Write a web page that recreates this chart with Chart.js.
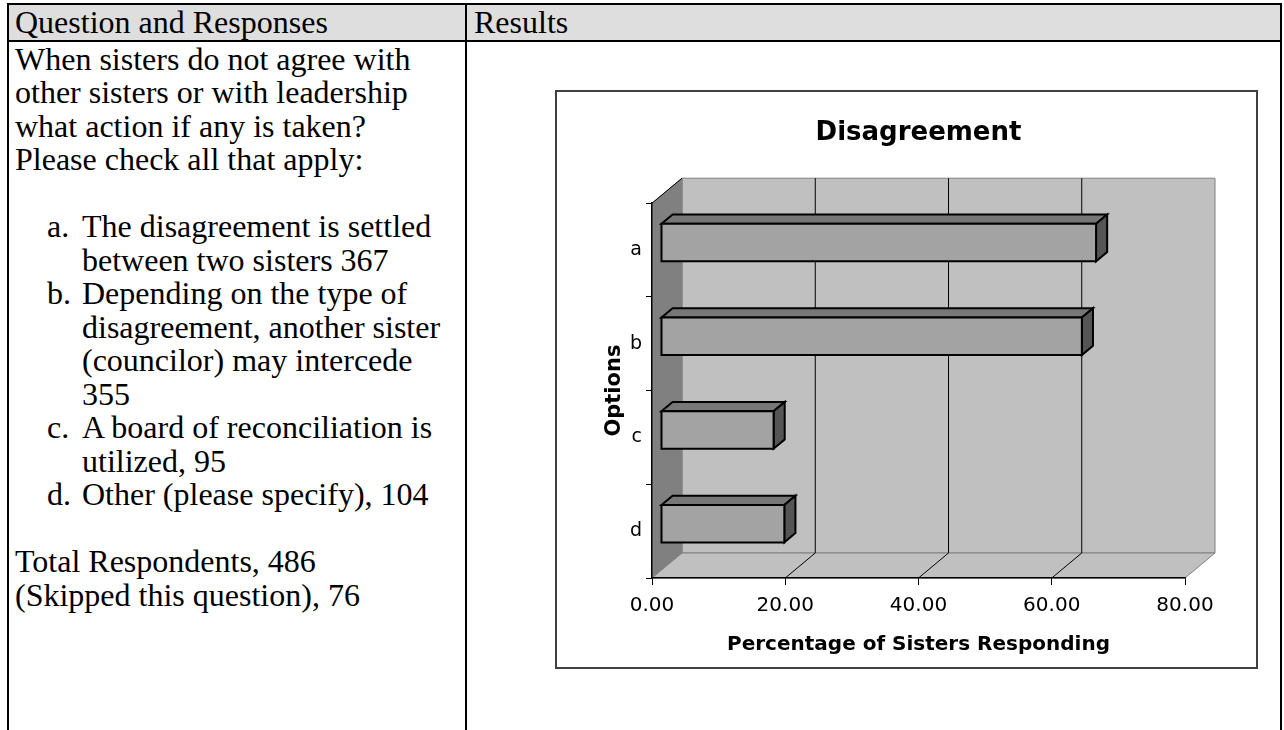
<!DOCTYPE html>
<html>
<head>
<meta charset="utf-8">
<script src="https://cdn.jsdelivr.net/npm/chart.js@4.4.0/dist/chart.umd.min.js"></script>
<style>
  body { margin: 0; width: 1284px; height: 730px; overflow: hidden; background: #fff;
         font-family: "Liberation Serif", "Times New Roman", serif; font-size: 32px; color: #000; }
  #frame { position: absolute; left: 7px; top: 3px; width: 1271px; height: 800px; border: 2px solid #000; }
  #head { position: absolute; left: 0; top: 0; width: 1271px; height: 35px; background: #dedede; border-bottom: 2px solid #000; }
  #divider { position: absolute; left: 456px; top: 0; width: 2px; height: 800px; background: #000; }
  .cell { position: absolute; line-height: 33.5px; white-space: nowrap; }
  .hd { line-height: 36.6px; }
  .li { position: relative; padding-left: 67px; }
  .mk { position: absolute; left: 32px; }
  #box { position: absolute; left: 555px; top: 90px; width: 699px; height: 575px; border: 2px solid #404040; background: #fff; }
  #chart { display: block; }
</style>
</head>
<body>
<div id="frame">
  <div id="head"></div>
  <div id="divider"></div>
  <div class="cell hd" style="left:6px; top:-1px">Question and Responses</div>
  <div class="cell hd" style="left:465px; top:-1px">Results</div>
  <div class="cell" style="left:6px; top:37.5px">
    <div>When sisters do not agree with</div>
    <div>other sisters or with leadership</div>
    <div>what action if any is taken?</div>
    <div>Please check all that apply:</div>
    <div>&nbsp;</div>
    <div class="li"><span class="mk">a.</span>The disagreement is settled</div>
    <div class="li">between two sisters 367</div>
    <div class="li"><span class="mk">b.</span>Depending on the type of</div>
    <div class="li">disagreement, another sister</div>
    <div class="li">(councilor) may intercede</div>
    <div class="li">355</div>
    <div class="li"><span class="mk">c.</span>A board of reconciliation is</div>
    <div class="li">utilized, 95</div>
    <div class="li"><span class="mk">d.</span>Other (please specify), 104</div>
    <div>&nbsp;</div>
    <div>Total Respondents, 486</div>
    <div>(Skipped this question), 76</div>
  </div>
</div>
<div id="box"><canvas id="chart" width="699" height="575"></canvas></div>

<script>
// values (percent of sisters responding)
const options = ['a', 'b', 'c', 'd'];
const percentResponding = [65.30, 63.17, 16.90, 18.51];
const xTicks = [0, 20, 40, 60, 80];

// fake 3d depth of the plot box
const DX = 30, DY = 25;
const FX = DX * 0.3, FY = DY * 0.3;     // bar front face shift
const BX = DX * 0.37, BY = DY * 0.37;   // bar depth

function poly(ctx, pts, fill, stroke, lw) {
  ctx.beginPath();
  ctx.moveTo(pts[0][0], pts[0][1]);
  for (let i = 1; i < pts.length; i++) ctx.lineTo(pts[i][0], pts[i][1]);
  ctx.closePath();
  if (fill) { ctx.fillStyle = fill; ctx.fill(); }
  if (stroke) { ctx.strokeStyle = stroke; ctx.lineWidth = lw || 1; ctx.stroke(); }
}
function line(ctx, x1, y1, x2, y2, color) {
  ctx.beginPath();
  ctx.moveTo(x1, y1);
  ctx.lineTo(x2, y2);
  ctx.strokeStyle = color;
  ctx.lineWidth = 1;
  ctx.stroke();
}

const walls = {
  id: 'walls',
  beforeDraw(chart) {
    const {ctx, chartArea: a, scales: {x}} = chart;
    ctx.save();
    // back wall
    poly(ctx, [[a.left + DX, a.top - DY], [a.right + DX, a.top - DY], [a.right + DX, a.bottom - DY], [a.left + DX, a.bottom - DY]], '#c0c0c0', '#808080');
    // left wall
    poly(ctx, [[a.left, a.top], [a.left + DX, a.top - DY], [a.left + DX, a.bottom - DY], [a.left, a.bottom]], '#808080', '#808080');
    // floor
    poly(ctx, [[a.left, a.bottom], [a.left + DX, a.bottom - DY], [a.right + DX, a.bottom - DY], [a.right, a.bottom]], '#c0c0c0', '#808080');
    line(ctx, a.left, a.top, a.left + DX, a.top - DY, '#000');
    xTicks.slice(1, -1).forEach(v => {
      const px = x.getPixelForValue(v);
      line(ctx, px + DX, a.top - DY, px + DX, a.bottom - DY, '#000');
      line(ctx, px, a.bottom, px + DX, a.bottom - DY, '#000');
    });
    ctx.restore();
  },
  afterDatasetsDraw(chart) {
    const ctx = chart.ctx;
    ctx.save();
    ctx.lineJoin = 'miter';
    chart.getDatasetMeta(0).data.forEach(bar => {
      const {x, y, base, height} = bar.getProps(['x', 'y', 'base', 'height'], true);
      const L = base + FX, R = x + FX, T = y - height / 2 - FY, B = y + height / 2 - FY;
      poly(ctx, [[L, T], [L + BX, T - BY], [R + BX, T - BY], [R, T]], '#777777', '#000', 2);
      poly(ctx, [[R, T], [R + BX, T - BY], [R + BX, B - BY], [R, B]], '#555555', '#000', 2);
      poly(ctx, [[L, T], [R, T], [R, B], [L, B]], '#a3a3a3', '#000', 2);
    });
    ctx.restore();
  }
};

Chart.defaults.font.family = '"DejaVu Sans", Verdana, sans-serif';
Chart.defaults.color = '#000';

new Chart(document.getElementById('chart'), {
  type: 'bar',
  data: {
    labels: options,
    datasets: [{
      data: percentResponding,
      backgroundColor: 'rgba(0,0,0,0)',
      borderWidth: 0,
      barPercentage: 0.4,
      categoryPercentage: 1
    }]
  },
  options: {
    indexAxis: 'y',
    responsive: false,
    animation: false,
    events: [],
    layout: { padding: { left: 0, right: 71, top: 0, bottom: 0 } },
    plugins: {
      legend: { display: false },
      tooltip: { enabled: false },
      title: {
        display: true,
        text: 'Disagreement',
        fullSize: false,
        color: '#000',
        font: { size: 26, weight: 'bold' },
        padding: { top: 26, bottom: 54 }
      }
    },
    scales: {
      x: {
        min: 0,
        max: 80,
        afterFit: s => { s.height = 89; },
        afterBuildTicks: s => { s.ticks = xTicks.map(v => ({ value: v })); },
        ticks: { padding: 9, font: { size: 20 }, callback: v => v.toFixed(2) },
        grid: { drawOnChartArea: false, tickLength: 7, color: '#000' },
        border: { display: true, color: '#000', width: 1.5 },
        title: {
          display: true,
          text: 'Percentage of Sisters Responding',
          font: { size: 20, weight: 'bold' },
          padding: { top: 0, bottom: 10 }
        }
      },
      y: {
        afterFit: s => { s.width = 95; },
        ticks: { padding: 4, font: { size: 19 } },
        grid: { drawOnChartArea: false, tickLength: 6, color: '#000' },
        border: { display: true, color: '#000', width: 1.5 },
        title: {
          display: true,
          text: 'Options',
          font: { size: 21, weight: 'bold' },
          padding: { top: 45, bottom: 0 }
        }
      }
    }
  },
  plugins: [walls]
});
</script>
</body>
</html>
